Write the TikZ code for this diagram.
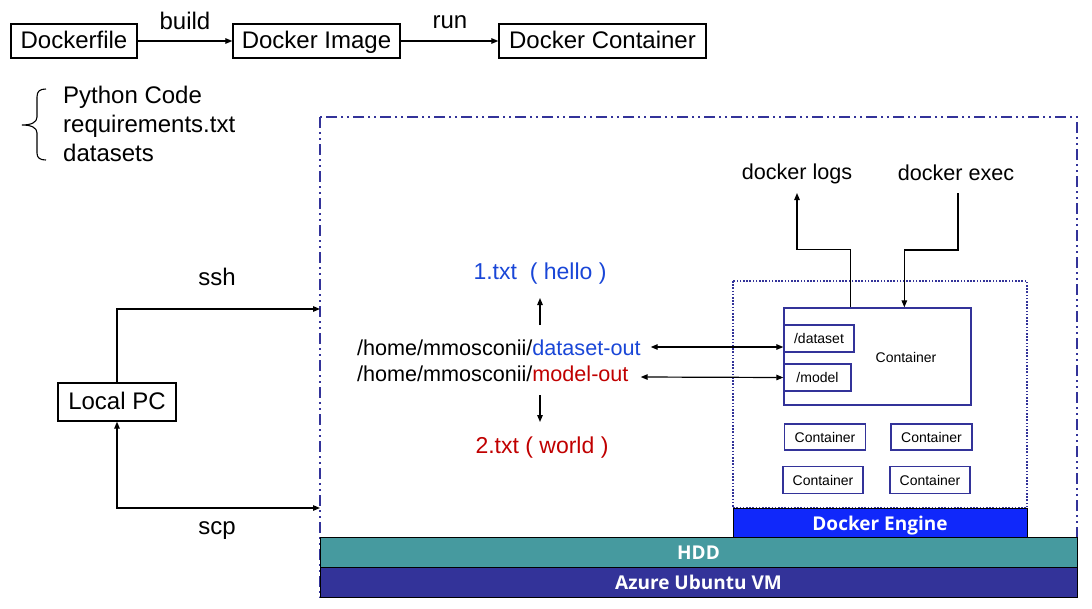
\documentclass[tikz,border=0pt]{standalone}
\usepackage{fontspec}
\setmainfont{Liberation Sans}
\newfontfamily\barfont{Open Sans}
\usetikzlibrary{arrows.meta,calc}
\definecolor{vmblue}{RGB}{51,51,153}
\definecolor{engblue}{RGB}{16,40,250}
\definecolor{hddteal}{RGB}{70,154,159}
\definecolor{tblue}{RGB}{25,70,215}
\definecolor{tred}{RGB}{192,0,0}
\tikzset{
  bigtxt/.style={font=\fontsize{24}{28}\selectfont, inner sep=0pt},
  midtxt/.style={font=\fontsize{21.6}{26}\selectfont, inner sep=0pt},
  filetxt/.style={font=\fontsize{23}{27}\selectfont, inner sep=0pt},
  smalltxt/.style={font=\fontsize{14}{16}\selectfont, inner sep=0pt},
  blackbox/.style={draw, line width=1.3pt, bigtxt, text height=20pt, text depth=5pt},
  cbox/.style={draw=vmblue, line width=1.3pt, smalltxt},
  barbox/.style={draw=black, line width=1pt, text=white, inner sep=0pt,
    font=\barfont\bfseries\fontsize{19}{21}\selectfont, text height=15pt, text depth=0pt,
    minimum width=757pt, minimum height=30pt},
  conn/.style={line width=1.2pt, -{Triangle[length=7pt,width=5.5pt]}},
  dconn/.style={line width=1.2pt, {Triangle[length=7pt,width=5.5pt]}-{Triangle[length=7pt,width=5.5pt]}},
  vmline/.style={draw=vmblue, line width=2pt, dash pattern=on 11pt off 4pt on 2pt off 4pt on 2pt off 4pt},
  engline/.style={draw=vmblue, line width=1.6pt, dash pattern=on 1.6pt off 1.6pt},
}
\begin{document}
\begin{tikzpicture}[x=1pt,y=-1pt]
\useasboundingbox (0,0) rectangle (1092,608);
% top row
\node[blackbox, minimum width=126pt, minimum height=34pt] (df) at (74,41) {Dockerfile};
\node[blackbox, minimum width=167pt, minimum height=34pt] (di) at (316.5,41) {Docker Image};
\node[blackbox, minimum width=207pt, minimum height=34pt] (dc) at (602.5,41) {Docker Container};
\draw[conn] (df) -- (di);
\draw[conn] (di) -- (dc);
\node[bigtxt] (lbuild) at (185,21) {build};
\node[bigtxt] (lrun) at (450,22) {run};
% list with brace
\node[bigtxt, align=left, anchor=west, font=\fontsize{24}{29}\selectfont] (lst) at (63,124) {Python Code\\requirements.txt\\datasets};
\draw[line width=1.1pt] (46,89) .. controls (40,89) and (37,91) .. (37,97) -- (37,117)
  .. controls (37,122) and (32,125) .. (22,125)
  .. controls (32,125) and (37,128) .. (37,133) -- (37,153)
  .. controls (37,158) and (40,160) .. (46,160);
% VM area
\draw[vmline] (320,117) rectangle (1077,597);
\coordinate (sshend) at (320,309);
\coordinate (scpend) at (320,508);
\node[blackbox, minimum width=118pt, minimum height=38pt] (pc) at (117,402) {Local PC};
\draw[conn] (pc.north) |- (sshend);
\draw[dconn] (pc.south) |- (scpend);
\node[bigtxt] (lssh) at (217,277) {ssh};
\node[bigtxt] (lscp) at (217,531) {scp};
% paths
\node[midtxt, anchor=west] (p1) at (357,348) {/home/mmosconii/\textcolor{tblue}{dataset-out}};
\node[midtxt, anchor=west] (p2) at (357,374) {/home/mmosconii/\textcolor{tred}{model-out}};
\node[filetxt, text=tblue] (t1) at (540,274) {1.txt\ \ ( hello )};
\node[filetxt, text=tred] (t2) at (542,448) {2.txt ( world\ )};
\coordinate (u1s) at (540,325);
\coordinate (u1e) at (540,298);
\coordinate (d1s) at (540,395);
\coordinate (d1e) at (540,422);
\draw[conn] (u1s) -- (u1e);
\draw[conn] (d1s) -- (d1e);
% docker engine area
\draw[engline] (733,281) rectangle (1027,508);
\node[cbox, minimum width=187pt, minimum height=97pt] (cbig) at (877.5,356.5) {};
\node[smalltxt] (cbigt) at (906,357) {Container};
\node[cbox, minimum width=70pt, minimum height=27pt] (ds) at (819,338.5) {/dataset};
\node[cbox, minimum width=67pt, minimum height=27pt] (md) at (817.5,377.5) {/model};
\node[cbox, minimum width=81pt, minimum height=26pt] (c1) at (825,437) {Container};
\node[cbox, minimum width=81pt, minimum height=26pt] (c2) at (931.5,437) {Container};
\node[cbox, minimum width=80pt, minimum height=27pt] (c3) at (823,480) {Container};
\node[cbox, minimum width=80pt, minimum height=27pt] (c4) at (930,480) {Container};
\draw[dconn] ($(p1.east)+(10,-1)$) -- (ds.west |- 0,347);
\draw[dconn] ($(p2.east)+(12,3)$) -- (md.west);
% docker logs / exec
\node[midtxt] (logs) at (797,174) {docker logs};
\node[midtxt] (exec) at (956,173) {docker exec};
\coordinate (logtip) at (797,193);
\coordinate (execstart) at (958,193);
\draw[conn] ($(cbig.north west)+(67,0)$) -- ++(0,-58) -| (logtip);
\draw[conn] (execstart) -- ++(0,57) -| ($(cbig.north west)+(121,0)$);
% bars
\node[barbox, fill=engblue, minimum width=294pt, minimum height=29pt] (eng) at (880,522.5) {Docker Engine};
\node[barbox, fill=hddteal] (hdd) at (698.5,552) {HDD};
\node[barbox, fill=vmblue] (vm) at (698.5,582) {Azure Ubuntu VM};
\end{tikzpicture}
\end{document}
